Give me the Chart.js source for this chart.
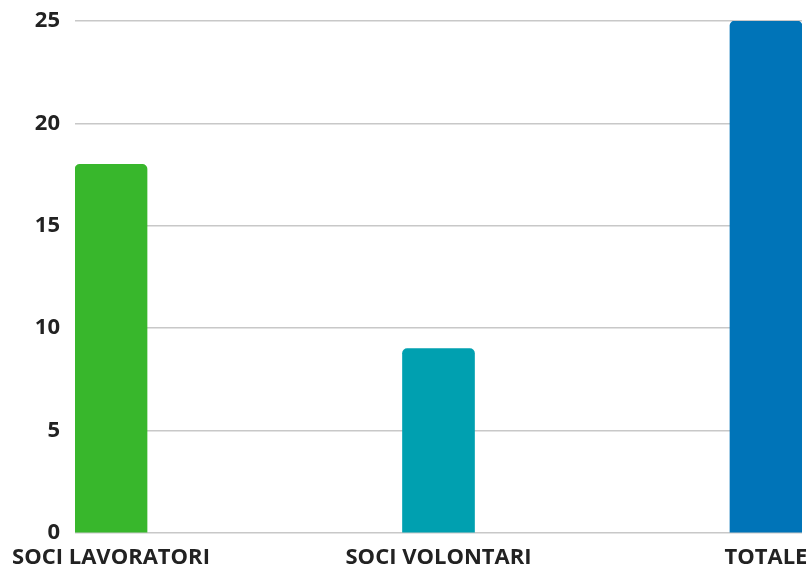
<!DOCTYPE html>
<html>
<head>
<meta charset="utf-8">
<script src="https://cdn.jsdelivr.net/npm/chart.js@4"></script>
<style>
  html, body { margin: 0; padding: 0; background: #fff; }
  #wrap { width: 809px; height: 568px; }
</style>
</head>
<body>
<div id="wrap"><canvas id="soci-chart"></canvas></div>
<script>
const categories = ['SOCI LAVORATORI', 'SOCI VOLONTARI', 'TOTALE'];
const values = [18, 9, 25];
const barColors = ['#38b72c', '#00a0b0', '#0074b8'];
const yTicks = [0, 5, 10, 15, 20, 25];

// half a bar, in category units, so the outer bars sit flush with the plot edges
const EDGE = 0.11;

function initChart() {
    const ctx = document.getElementById('soci-chart').getContext('2d');
    new Chart(ctx, {
        type: 'bar',
        data: {
            datasets: [{
                data: values.map((v, i) => ({ x: i, y: v })),
                backgroundColor: barColors,
                borderRadius: 5,
                borderSkipped: 'bottom',
                barThickness: 72
            }]
        },
        options: {
            responsive: true,
            maintainAspectRatio: false,
            animation: false,
            layout: { padding: { top: 21, right: 7, left: 0, bottom: 0 } },
            plugins: { legend: { display: false }, tooltip: { enabled: false } },
            scales: {
                x: {
                    type: 'linear',
                    offset: false,
                    min: -EDGE,
                    max: categories.length - 1 + EDGE,
                    grid: { display: false },
                    border: { display: false },
                    afterFit: s => { s.height = 35; s.paddingLeft = 0; s.paddingRight = 0; },
                    afterBuildTicks: s => { s.ticks = categories.map((c, i) => ({ value: i })); },
                    ticks: {
                        autoSkip: false,
                        maxRotation: 0,
                        padding: 4,
                        color: '#222',
                        font: { family: 'Open Sans', weight: 'bold', size: 22 },
                        callback: v => categories[v] ?? ''
                    }
                },
                y: {
                    min: 0,
                    max: 25,
                    afterFit: s => { s.width = 75; s.paddingTop = 0; s.paddingBottom = 0; },
                    afterBuildTicks: s => { s.ticks = yTicks.map(v => ({ value: v })); },
                    grid: { color: '#c8c8c8', lineWidth: 1.5, drawTicks: false },
                    border: { display: false },
                    ticks: {
                        padding: 15,
                        color: '#222',
                        font: { family: 'Open Sans', weight: 'bold', size: 22 }
                    }
                }
            }
        }
    });
}

document.addEventListener('DOMContentLoaded', initChart);
</script>
</body>
</html>
